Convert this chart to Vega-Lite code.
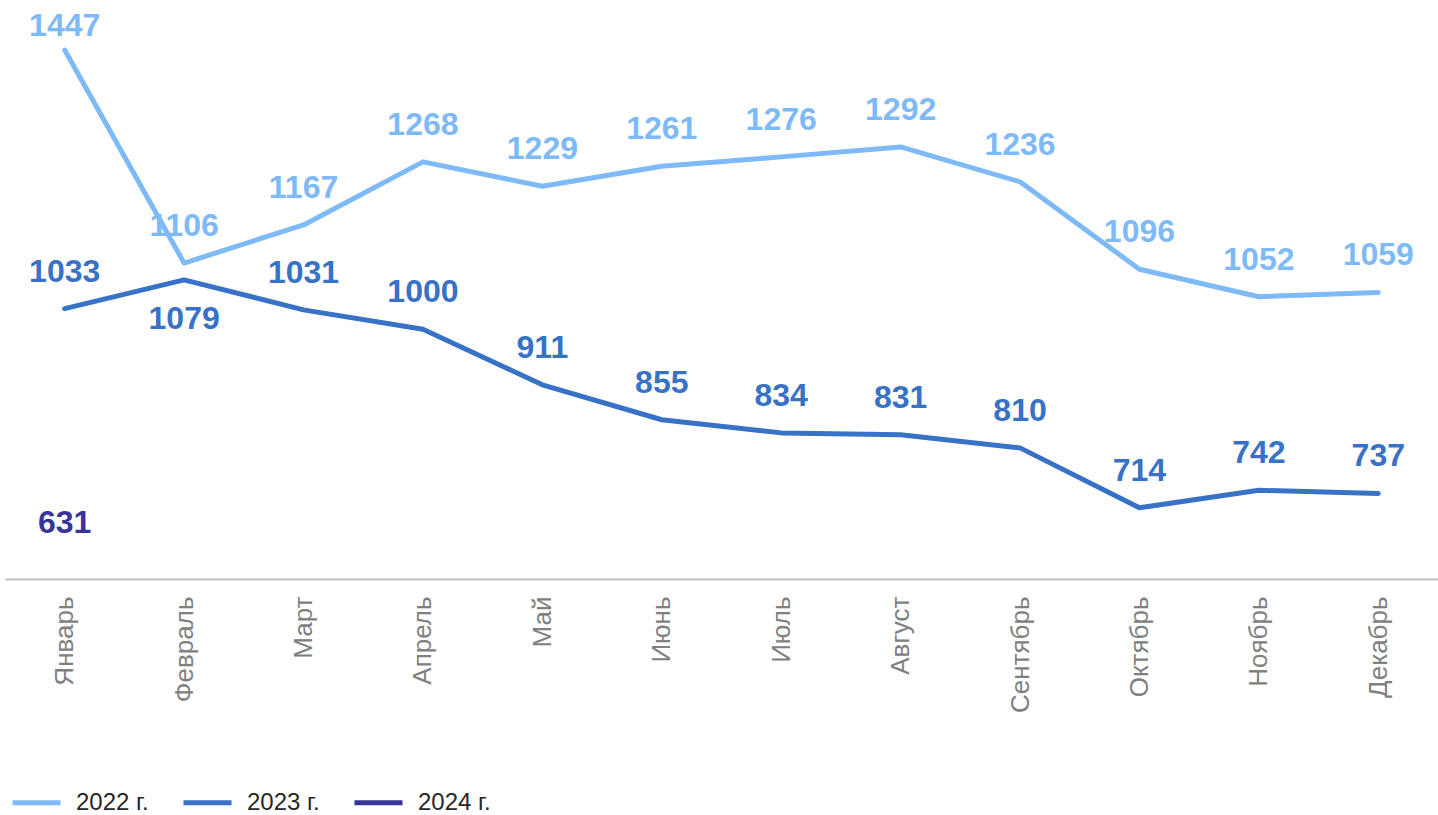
{
  "$schema": "https://vega.github.io/schema/vega-lite/v6.json",
  "autosize": {"type": "none"},
  "width": 1433,
  "height": 562,
  "padding": {"left": 5, "top": 17, "right": 0, "bottom": 236},
  "background": "white",
  "config": {"view": {"stroke": null}, "font": "Liberation Sans"},
  "data": {"values": [
    {"month": "Январь", "series": "2022 г.", "value": 1447},
    {"month": "Февраль", "series": "2022 г.", "value": 1106},
    {"month": "Март", "series": "2022 г.", "value": 1167},
    {"month": "Апрель", "series": "2022 г.", "value": 1268},
    {"month": "Май", "series": "2022 г.", "value": 1229},
    {"month": "Июнь", "series": "2022 г.", "value": 1261},
    {"month": "Июль", "series": "2022 г.", "value": 1276},
    {"month": "Август", "series": "2022 г.", "value": 1292},
    {"month": "Сентябрь", "series": "2022 г.", "value": 1236},
    {"month": "Октябрь", "series": "2022 г.", "value": 1096},
    {"month": "Ноябрь", "series": "2022 г.", "value": 1052},
    {"month": "Декабрь", "series": "2022 г.", "value": 1059},
    {"month": "Январь", "series": "2023 г.", "value": 1033},
    {"month": "Февраль", "series": "2023 г.", "value": 1079},
    {"month": "Март", "series": "2023 г.", "value": 1031},
    {"month": "Апрель", "series": "2023 г.", "value": 1000},
    {"month": "Май", "series": "2023 г.", "value": 911},
    {"month": "Июнь", "series": "2023 г.", "value": 855},
    {"month": "Июль", "series": "2023 г.", "value": 834},
    {"month": "Август", "series": "2023 г.", "value": 831},
    {"month": "Сентябрь", "series": "2023 г.", "value": 810},
    {"month": "Октябрь", "series": "2023 г.", "value": 714},
    {"month": "Ноябрь", "series": "2023 г.", "value": 742},
    {"month": "Декабрь", "series": "2023 г.", "value": 737},
    {"month": "Январь", "series": "2024 г.", "value": 631}
  ]},
  "encoding": {
    "x": {
      "field": "month", "type": "nominal",
      "sort": ["Январь","Февраль","Март","Апрель","Май","Июнь","Июль","Август","Сентябрь","Октябрь","Ноябрь","Декабрь"],
      "scale": {"type": "point", "padding": 0.5},
      "axis": {"title": null, "ticks": false, "grid": false, "domainColor": "#bfbfbf", "domainWidth": 2,
               "labelAngle": -90, "labelAlign": "right", "labelBaseline": "middle", "labelPadding": 17,
               "labelFontSize": 26, "labelColor": "#808080", "labelFont": "Liberation Sans"}
    },
    "y": {"field": "value", "type": "quantitative", "scale": {"domain": [600, 1500], "nice": false, "zero": false}, "axis": null},
    "color": {
      "field": "series", "type": "nominal",
      "scale": {"domain": ["2022 г.", "2023 г.", "2024 г."], "range": ["#7fbaf8", "#3872c6", "#37359a"]}
    }
  },
  "layer": [
    {
      "transform": [{"filter": "datum.series != '2024 г.'"}],
      "mark": {"type": "line", "strokeWidth": 5, "strokeCap": "round", "strokeJoin": "round"},
      "encoding": {
        "color": {
          "field": "series", "type": "nominal",
          "legend": {"title": null, "orient": "none", "direction": "horizontal", "legendX": 5, "legendY": 759,
                     "symbolType": "stroke", "symbolSize": 2304, "symbolStrokeWidth": 5,
                     "labelFontSize": 24, "labelColor": "#262626", "labelOffset": 13, "columnPadding": 24,
                     "labelFont": "Liberation Sans"}
        }
      }
    },
    {
      "transform": [{"filter": "!((datum.series == '2023 г.' && datum.month == 'Февраль') || (datum.series == '2022 г.' && datum.month == 'Январь'))"}],
      "mark": {"type": "text", "fontSize": 32, "fontWeight": "bold", "baseline": "middle", "dy": -37},
      "encoding": {"text": {"field": "value", "type": "quantitative"}}
    },
    {
      "transform": [{"filter": "datum.series == '2023 г.' && datum.month == 'Февраль'"}],
      "mark": {"type": "text", "fontSize": 32, "fontWeight": "bold", "baseline": "middle", "dy": 39},
      "encoding": {"text": {"field": "value", "type": "quantitative"}}
    },
    {
      "transform": [{"filter": "datum.series == '2022 г.' && datum.month == 'Январь'"}],
      "mark": {"type": "text", "fontSize": 32, "fontWeight": "bold", "baseline": "middle", "dy": -24},
      "encoding": {"text": {"field": "value", "type": "quantitative"}}
    }
  ]
}
